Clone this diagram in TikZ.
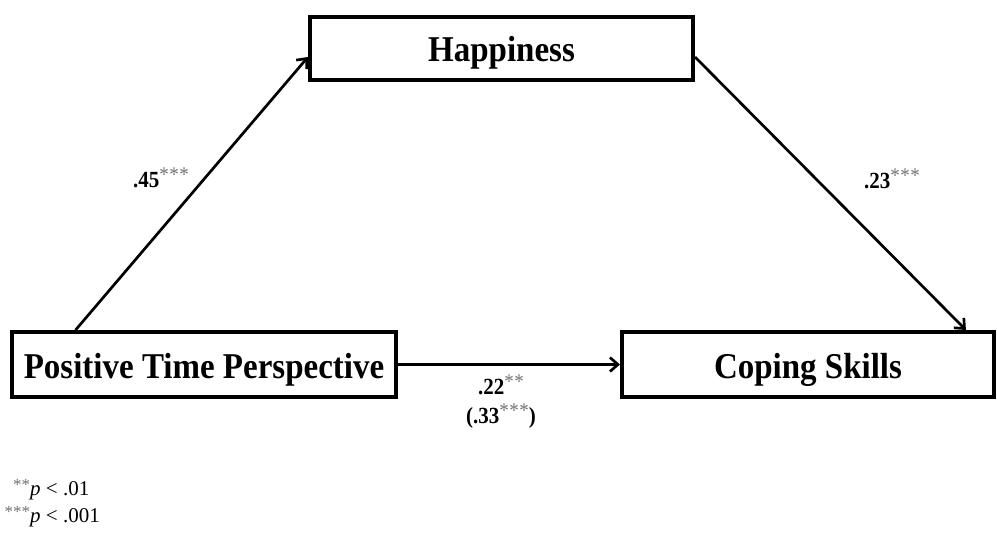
\documentclass[tikz,border=0pt]{standalone}
\usepackage{fontspec}
\setmainfont{Liberation Serif}
\usetikzlibrary{arrows.meta,calc}
\newcommand{\cstars}[1]{\raisebox{5pt}{\fontsize{19}{19}\selectfont\mdseries\color{black!55}#1}}
\newcommand{\sthree}{\cstars{*\kern0.5pt*\kern0.5pt*}}
\newcommand{\stwo}{\cstars{*\kern0.5pt*}}
\newcommand{\fstars}[1]{\raisebox{5pt}{\fontsize{17}{17}\selectfont\color{black!55}#1}}
\newcommand{\tall}[1]{\scalebox{1}[1.1]{#1}}
\tikzset{
  box/.style={draw=black, line width=4pt, rectangle, inner sep=0pt,
    font=\fontsize{33}{38}\selectfont\bfseries, text height=27pt, text depth=0pt},
  conn/.style={line width=2.7pt, -{Straight Barb[length=8pt,width=14pt,line width=2.7pt]}},
  coef/.style={font=\fontsize{21}{24}\selectfont\bfseries, inner sep=0pt},
  note/.style={font=\fontsize{21}{24}\selectfont, inner sep=0pt},
}
\begin{document}
\begin{tikzpicture}[x=1pt,y=-1pt]
\useasboundingbox (0,0) rectangle (997,535);
\node[box, minimum width=383pt, minimum height=63pt] (hap) at (501.5,48.5) {\tall{Happiness}};
\node[box, minimum width=384pt, minimum height=65pt] (ptp) at (204,364.5) {\tall{Positive Time Perspective}};
\node[box, minimum width=372pt, minimum height=65pt] (cop) at (808,364.5) {\tall{Coping Skills}};
\draw[conn] ($(ptp.north west)!0.169!(ptp.north east)$) -- ($(hap.west)+(0,8.5)$);
\draw[conn] ($(hap.east)+(0,8.5)$) -- ($(cop.north west)!0.92!(cop.north east)$);
\draw[conn] (ptp.east) -- (ptp.east -| cop.west);
\node[coef, anchor=base west] (l45) at (133,187) {\tall{.45\sthree}};
\node[coef, anchor=base west] (l23) at (864,188) {\tall{.23\sthree}};
\node[coef, anchor=base] (l22) at (501,394) {\tall{.22\stwo}};
\node[coef, anchor=base] (l33) at (501,423) {\tall{(.33\sthree)}};
\node[note, anchor=base west] (n1) at (30,495) {\llap{\fstars{**}}\textit{p} < .01};
\node[note, anchor=base west] (n2) at (30,522) {\llap{\fstars{***}}\textit{p} < .001};
\end{tikzpicture}
\end{document}
